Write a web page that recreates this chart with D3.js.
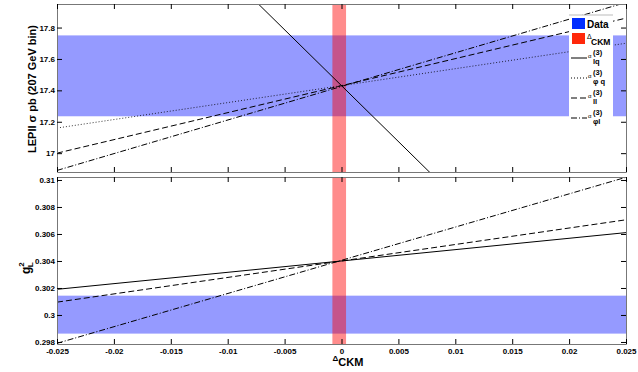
<!DOCTYPE html>
<html>
<head>
<meta charset="utf-8">
<script src="https://cdn.jsdelivr.net/npm/d3@7"></script>
<style>
  body { margin: 0; background: #fff; }
  svg { font-family: "Liberation Sans", Arial, sans-serif; }
</style>
</head>
<body>
<div id="chart"></div>
<script>
// Data
var xDomain = [-0.025, 0.025];
var xTicks = [-0.025, -0.02, -0.015, -0.01, -0.005, 0, 0.005, 0.01, 0.015, 0.02, 0.025];
var xTickLabels = ["-0.025", "-0.02", "-0.015", "-0.01", "-0.005", "0", "0.005", "0.01", "0.015", "0.02", "0.025"];
var ckmBand = [-0.0008, 0.0004];

var topDomain = [16.88, 17.95];
var topTicks = [17, 17.2, 17.4, 17.6, 17.8];
var topTickLabels = ["17", "17.2", "17.4", "17.6", "17.8"];
var topBand = [17.235, 17.75];
// values at x = -0.025 and x = 0.025
var topLq = [19.21, 15.65];
var topPhiQ = [17.16, 17.70];
var topLl = [17.0, 17.86];
var topPhiL = [16.89, 17.96];

var botDomain = [0.29785, 0.31022];
var botTicks = [0.298, 0.3, 0.302, 0.304, 0.306, 0.308, 0.31];
var botTickLabels = ["0.298", "0.3", "0.302", "0.304", "0.306", "0.308", "0.31"];
var botBand = [0.29862, 0.30143];
var botLq = [0.3019, 0.3061];
var botLl = [0.30095, 0.30705];
var botPhiL = [0.2979, 0.3102];

var width = 638, height = 372;
var left = 57, right = 626;
var topPanel = { y0: 4, y1: 172 };
var botPanel = { y0: 177, y1: 344 };

var dashStyles = { solid: null, dotted: "1,2", dashed: "6,3", dashdot: "6,2,1,2" };

var svg = d3.select("#chart").append("svg")
    .attr("width", width)
    .attr("height", height);

var x = d3.scaleLinear().domain(xDomain).range([left, right]);

svg.append("defs").selectAll("clipPath")
    .data([topPanel, botPanel])
    .enter().append("clipPath")
    .attr("id", function(d, i) { return "clip" + i; })
    .append("rect")
    .attr("x", left)
    .attr("y", function(d) { return d.y0; })
    .attr("width", right - left)
    .attr("height", function(d) { return d.y1 - d.y0; });

function drawPanel(idx, panel, domain, ticks, tickLabels, band, lines, showXLabels) {
    var y = d3.scaleLinear().domain(domain).range([panel.y1, panel.y0]);
    var g = svg.append("g");
    var plot = g.append("g").attr("clip-path", "url(#clip" + idx + ")");

    // data band
    plot.append("rect")
        .attr("x", left)
        .attr("width", right - left)
        .attr("y", y(band[1]))
        .attr("height", y(band[0]) - y(band[1]))
        .attr("fill", "rgb(20,30,255)")
        .attr("fill-opacity", 0.45);

    // CKM band
    plot.append("rect")
        .attr("x", x(ckmBand[0]))
        .attr("width", x(ckmBand[1]) - x(ckmBand[0]))
        .attr("y", panel.y0)
        .attr("height", panel.y1 - panel.y0)
        .attr("fill", "rgb(255,0,0)")
        .attr("fill-opacity", 0.45);

    var line = d3.line()
        .x(function(d) { return x(d[0]); })
        .y(function(d) { return y(d[1]); });

    lines.forEach(function(l) {
        plot.append("path")
            .datum([[xDomain[0], l.v[0]], [xDomain[1], l.v[1]]])
            .attr("d", line)
            .attr("fill", "none")
            .attr("stroke", "#000")
            .attr("stroke-width", l.style === "dotted" ? 0.8 : 1)
            .attr("stroke-dasharray", dashStyles[l.style]);
    });

    // axes
    var axL = d3.axisLeft(y).tickValues(ticks).tickSizeInner(-5).tickSizeOuter(0)
        .tickFormat(function(d, i) { return tickLabels[i]; });
    var axR = d3.axisRight(y).tickValues(ticks).tickSizeInner(-5).tickSizeOuter(0)
        .tickFormat("");
    var axB = d3.axisBottom(x).tickValues(xTicks).tickSizeInner(-5).tickSizeOuter(0)
        .tickFormat(function(d, i) { return showXLabels ? xTickLabels[i] : ""; });
    var axT = d3.axisTop(x).tickValues(xTicks).tickSizeInner(-5).tickSizeOuter(0)
        .tickFormat("");

    var gl = g.append("g").attr("transform", "translate(" + left + ",0)").call(axL);
    var gr = g.append("g").attr("transform", "translate(" + right + ",0)").call(axR);
    var gb = g.append("g").attr("transform", "translate(0," + panel.y1 + ")").call(axB);
    var gt = g.append("g").attr("transform", "translate(0," + panel.y0 + ")").call(axT);

    [gl, gr, gb, gt].forEach(function(a) {
        a.select(".domain").attr("stroke", "#777").attr("stroke-width", 1);
        a.selectAll(".tick line").attr("stroke", "#000");
        a.selectAll(".tick text")
            .attr("fill", "#000")
            .style("font-size", "8px")
            .style("font-weight", "bold");
    });
    gl.selectAll(".tick text").attr("x", -2);
    gb.selectAll(".tick text").attr("y", 4);
    return y;
}

drawPanel(0, topPanel, topDomain, topTicks, topTickLabels, topBand, [
    { v: topLq, style: "solid" },
    { v: topPhiQ, style: "dotted" },
    { v: topLl, style: "dashed" },
    { v: topPhiL, style: "dashdot" }
], false);

drawPanel(1, botPanel, botDomain, botTicks, botTickLabels, botBand, [
    { v: botLq, style: "solid" },
    { v: botLl, style: "dashed" },
    { v: botPhiL, style: "dashdot" }
], true);

// axis titles
svg.append("text")
    .attr("transform", "translate(36,89) rotate(-90)")
    .attr("text-anchor", "middle")
    .style("font-size", "11px")
    .style("font-weight", "bold")
    .text("LEPII σ pb (207 GeV bin)");

var tBot = svg.append("text")
    .attr("transform", "translate(30,274) rotate(-90)")
    .style("font-size", "12px")
    .style("font-weight", "bold");
tBot.append("tspan").text("g");
tBot.append("tspan").attr("dy", -6).style("font-size", "8px").text("2");
tBot.append("tspan").attr("dx", -5).attr("dy", 9).style("font-size", "8px").text("L");

var tX = svg.append("text")
    .attr("x", x(0) - 9)
    .attr("y", 361)
    .style("font-weight", "bold");
tX.append("tspan").style("font-size", "8px").text("Δ");
tX.append("tspan").attr("dy", 5).style("font-size", "11px").text("CKM");

// legend
var lg = svg.append("g").attr("transform", "translate(569,15)");
lg.append("rect").attr("width", 44).attr("height", 113).attr("fill", "#fff");
lg.append("line").attr("x1", 0).attr("x2", 44).attr("y1", 0).attr("y2", 0)
    .attr("stroke", "#bbb");

var legendItems = [
    { type: "swatch", color: "rgb(0,45,255)", name: "Data", y: 9 },
    { type: "swatch", color: "rgb(255,40,10)", name: "Δ", sub: "CKM", y: 24 },
    { type: "line", style: "solid", sup: "(3)", sub: "lq", y: 43 },
    { type: "line", style: "dotted", sup: "(3)", sub: "φ q", y: 63 },
    { type: "line", style: "dashed", sup: "(3)", sub: "ll", y: 83 },
    { type: "line", style: "dashdot", sup: "(3)", sub: "φl", y: 103 }
];

legendItems.forEach(function(d) {
    var row = lg.append("g").attr("transform", "translate(0," + d.y + ")");
    if (d.type === "swatch") {
        row.append("rect").attr("x", 3).attr("y", -6).attr("width", 13).attr("height", 11)
            .attr("fill", d.color);
        if (d.sub) {
            row.append("text").attr("x", 18).attr("y", 0)
                .style("font-size", "7px").text(d.name);
            row.append("text").attr("x", 22).attr("y", 6)
                .style("font-size", "8.5px").style("font-weight", "bold").text(d.sub);
        } else {
            row.append("text").attr("x", 18).attr("y", 4)
                .style("font-size", "10px").style("font-weight", "bold").text(d.name);
        }
    } else {
        row.append("line").attr("x1", 2).attr("x2", 18).attr("y1", 0).attr("y2", 0)
            .attr("stroke", "#000")
            .attr("stroke-width", 1)
            .attr("stroke-dasharray", dashStyles[d.style]);
        row.append("text").attr("x", 19).attr("y", 0)
            .style("font-size", "6px").text("α");
        row.append("text").attr("x", 24).attr("y", -3)
            .style("font-size", "7.5px").style("font-weight", "bold").text(d.sup);
        row.append("text").attr("x", 24).attr("y", 6)
            .style("font-size", "7.5px").style("font-weight", "bold").text(d.sub);
    }
});
</script>
</body>
</html>
